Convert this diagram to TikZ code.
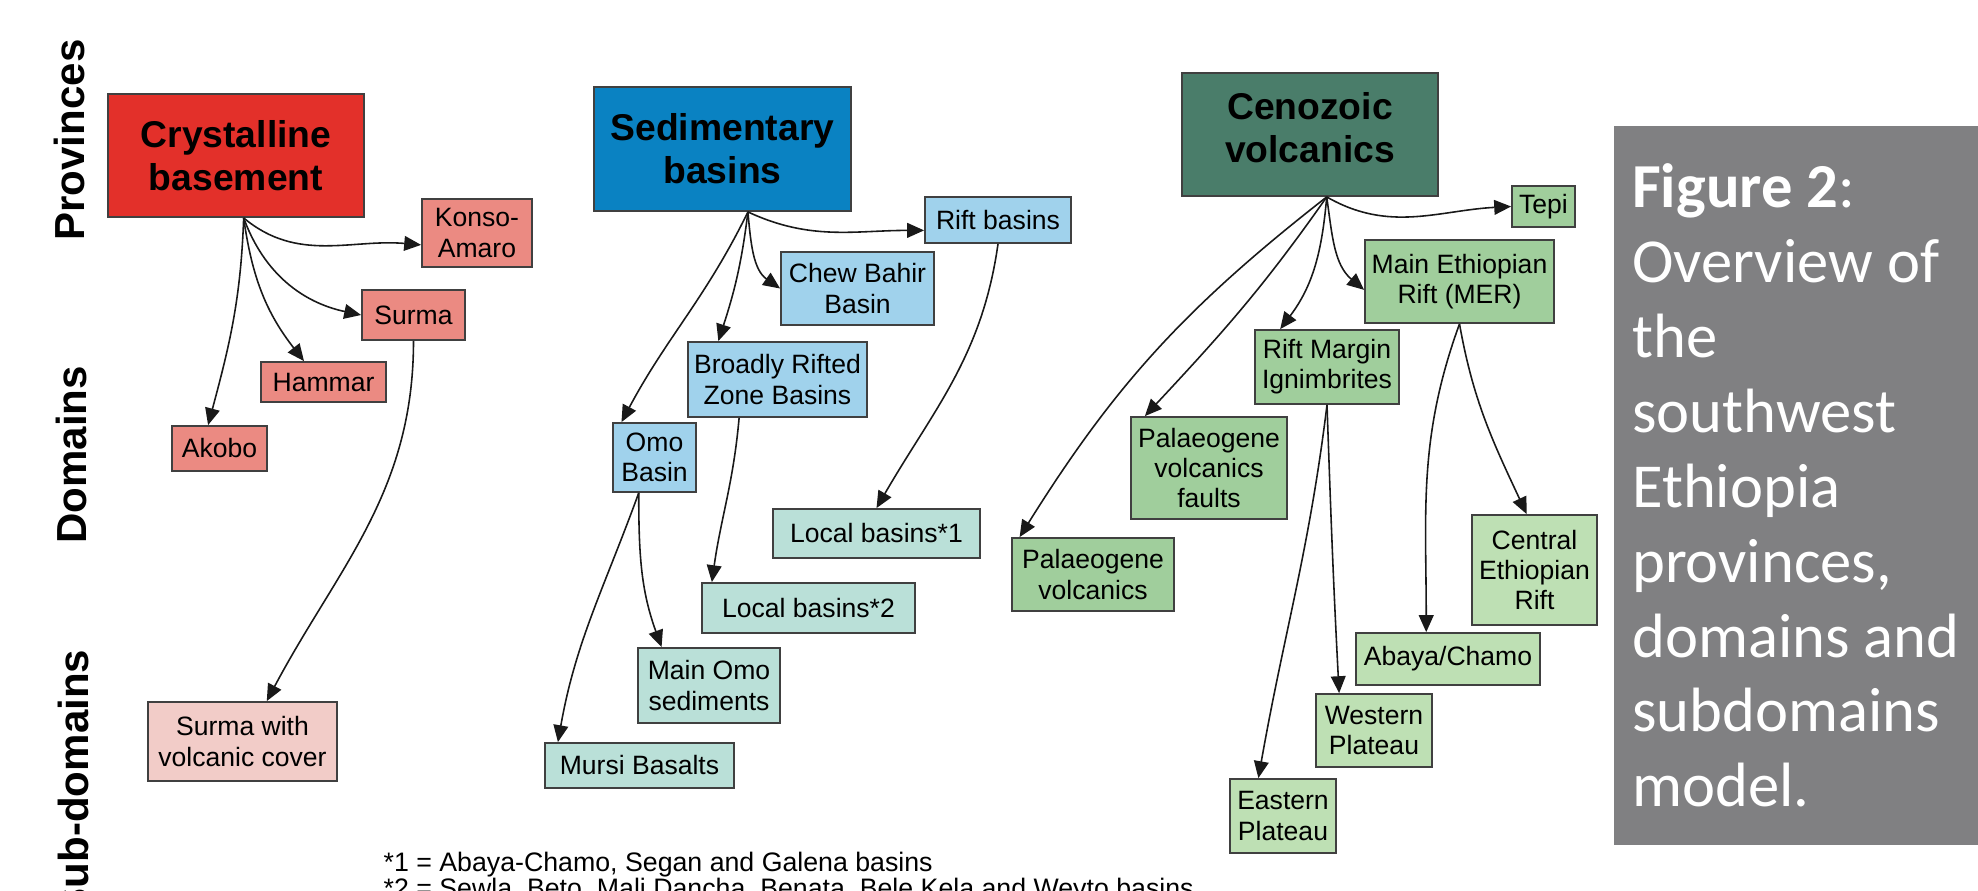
\documentclass[tikz,border=0pt]{standalone}
\usepackage{fontspec}
\setmainfont{Liberation Sans}
\newfontfamily\capfont{Carlito}
\usetikzlibrary{arrows.meta}
\usepackage{xcolor}
\definecolor{crysred}{RGB}{227, 48, 42}
\definecolor{crysdom}{RGB}{235, 138, 130}
\definecolor{cryssub}{RGB}{242, 204, 200}
\definecolor{sedblue}{RGB}{10, 130, 194}
\definecolor{seddom}{RGB}{160, 210, 236}
\definecolor{sedsub}{RGB}{186, 224, 216}
\definecolor{cenogreen}{RGB}{74, 125, 106}
\definecolor{cenodom}{RGB}{160, 206, 156}
\definecolor{cenosub}{RGB}{190, 224, 180}
\definecolor{capgray}{RGB}{128, 128, 130}
\newcommand\boxfont{\fontsize{7.55}{8.55}\selectfont}
\newcommand\provfont{\fontsize{10.6}{12.2}\selectfont\bfseries}
\newcommand\levelfont{\fontsize{11.95}{14}\selectfont\bfseries}
\newcommand\notefont{\fontsize{7.6}{8.6}\selectfont}
\newcommand\captext{\fontsize{17.8}{21.3}\selectfont\capfont}

\begin{document}
\begin{tikzpicture}[
        x=0.01cm, y=-0.01cm,
        box/.style={draw=black!75, line width=0.5pt, inner sep=0pt, align=center, font=\boxfont},
        province/.style={box, font=\provfont},
        level/.style={rotate=90, anchor=base, inner sep=0pt, font=\levelfont},
        note/.style={anchor=base west, inner sep=0pt, font=\notefont},
        captionbox/.style={fill=capgray, text=white, align=left, font=\captext,
            minimum width=3.64cm, minimum height=7.19cm, inner sep=0pt},
        link/.style={-{Triangle[length=4.8pt, width=4.2pt]}, line width=0.45pt, black!90}
    ]
        \useasboundingbox (0,0) rectangle (1978,891);

        % levels
        \node (provinces) [level] at (84,140) {Provinces};
        \node (domains) [level] at (86,455) {Domains};
        \node (subdomains) [level] at (88,783) {Sub-domains};

        % crystalline basement
        \node (crys) [province, fill=crysred, minimum width=2.56cm, minimum height=1.23cm]
            at (236,155.5) {Crystalline\\basement};
        \node (konso) [box, fill=crysdom, minimum width=1.10cm, minimum height=0.68cm]
            at (477,233) {Konso-\\Amaro};
        \node (surma) [box, fill=crysdom, minimum width=1.03cm, minimum height=0.50cm]
            at (413.5,315) {Surma};
        \node (hammar) [box, fill=crysdom, minimum width=1.25cm, minimum height=0.40cm]
            at (323.5,382) {Hammar};
        \node (akobo) [box, fill=crysdom, minimum width=0.95cm, minimum height=0.45cm]
            at (219.5,448.5) {Akobo};
        \node (surmavc) [box, fill=cryssub, minimum width=1.89cm, minimum height=0.79cm]
            at (242.5,741.5) {Surma with\\volcanic cover};

        % sedimentary basins
        \node (sed) [province, fill=sedblue, minimum width=2.57cm, minimum height=1.24cm]
            at (722.5,149) {Sedimentary\\basins};
        \node (rift) [box, fill=seddom, minimum width=1.46cm, minimum height=0.46cm]
            at (998,220) {Rift basins};
        \node (chew) [box, fill=seddom, minimum width=1.53cm, minimum height=0.73cm]
            at (857.5,288.5) {Chew Bahir\\Basin};
        \node (broadly) [box, fill=seddom, minimum width=1.79cm, minimum height=0.75cm]
            at (777.5,379.5) {Broadly Rifted\\Zone Basins};
        \node (omo) [box, fill=seddom, minimum width=0.83cm, minimum height=0.69cm]
            at (654.5,457.5) {Omo\\Basin};
        \node (local1) [box, fill=sedsub, minimum width=2.07cm, minimum height=0.49cm]
            at (876.5,533.5) {Local basins*1};
        \node (local2) [box, fill=sedsub, minimum width=2.13cm, minimum height=0.50cm]
            at (808.5,608) {Local basins*2};
        \node (mainomo) [box, fill=sedsub, minimum width=1.42cm, minimum height=0.75cm]
            at (709,685.5) {Main Omo\\sediments};
        \node (mursi) [box, fill=sedsub, minimum width=1.89cm, minimum height=0.45cm]
            at (639.5,765.5) {Mursi Basalts};

        % cenozoic volcanics
        \node (ceno) [province, fill=cenogreen, minimum width=2.56cm, minimum height=1.23cm,
            text depth=0.14cm] at (1310,134.5) {Cenozoic\\volcanics};
        \node (tepi) [box, fill=cenodom, minimum width=0.63cm, minimum height=0.41cm]
            at (1543.5,206.5) {Tepi};
        \node (mer) [box, fill=cenodom, minimum width=1.89cm, minimum height=0.83cm]
            at (1459.5,281.5) {Main Ethiopian\\Rift (MER)};
        \node (rm) [box, fill=cenodom, minimum width=1.44cm, minimum height=0.74cm]
            at (1327,367) {Rift Margin\\Ignimbrites};
        \node (pf) [box, fill=cenodom, minimum width=1.56cm, minimum height=1.02cm]
            at (1209,468) {Palaeogene\\volcanics\\faults};
        \node (pv) [box, fill=cenodom, minimum width=1.62cm, minimum height=0.73cm]
            at (1093,574.5) {Palaeogene\\volcanics};
        \node (central) [box, fill=cenosub, minimum width=1.25cm, minimum height=1.10cm]
            at (1534.5,570) {Central\\Ethiopian\\Rift};
        \node (abaya) [box, fill=cenosub, minimum width=1.84cm, minimum height=0.52cm]
            at (1448,659) {Abaya/Chamo};
        \node (western) [box, fill=cenosub, minimum width=1.16cm, minimum height=0.73cm]
            at (1374,730.5) {Western\\Plateau};
        \node (eastern) [box, fill=cenosub, minimum width=1.06cm, minimum height=0.74cm]
            at (1283,816) {Eastern\\Plateau};

        % notes and caption
        \node (note1) [note] at (383,871) {*1 = Abaya-Chamo, Segan and Galena basins};
        \node (note2) [note] at (383,897) {*2 = Sewla, Beto, Mali Dancha, Benata, Bele Kela and Weyto basins};
        \node (caption) [captionbox] at (1796,485.5)
        {
            {\bfseries Figure 2}:\\
            Overview of\\
            the\\
            southwest\\
            Ethiopia\\
            provinces,\\
            domains and\\
            subdomains\\
            model.
        };

        \draw[link, out=-40, in=175] (crys.-83.5) to (konso.192);
        \draw[link, out=-70, in=168] (crys.-83.5) to (surma.west);
        \draw[link, out=-82, in=128] (crys.-83.5) to (hammar.133);
        \draw[link, out=-92, in=75] (crys.-83.5) to (akobo.116);
        \draw[link, out=-90, in=62] (surma.south) to (surmavc.59);

        \draw[link, out=-25, in=180] (sed.-68.4) to (rift.188);
        \draw[link, out=-85, in=145] (sed.-68.4) to (chew.west);
        \draw[link, out=-97, in=72] (sed.-68.4) to (broadly.147);
        \draw[link, out=-116, in=62] (sed.-68.4) to (omo.133);
        \draw[link, out=-98, in=60] (rift.south) to (local1.north);
        \draw[link, out=-95, in=82] (broadly.-135) to (local2.165);
        \draw[link, out=-90, in=110] (omo.-114) to (mainomo.141);
        \draw[link, out=-110, in=80] (omo.-114) to (mursi.164);

        \draw[link, out=-30, in=183] (ceno.-75.6) to (tepi.west);
        \draw[link, out=-82, in=140] (ceno.-75.6) to (mer.185);
        \draw[link, out=-95, in=53] (ceno.-75.6) to (rm.141);
        \draw[link, out=-125, in=47] (ceno.-75.6) to (pf.141);
        \draw[link, out=-142, in=58] (ceno.-75.6) to (pv.153);
        \draw[link, out=-88, in=93] (rm.south) to (western.133);
        \draw[link, out=-97, in=80] (rm.south) to (eastern.123);
        \draw[link, out=-110, in=90] (mer.south) to (abaya.129);
        \draw[link, out=-80, in=115] (mer.south) to (central.98);
    \end{tikzpicture}
\end{document}
